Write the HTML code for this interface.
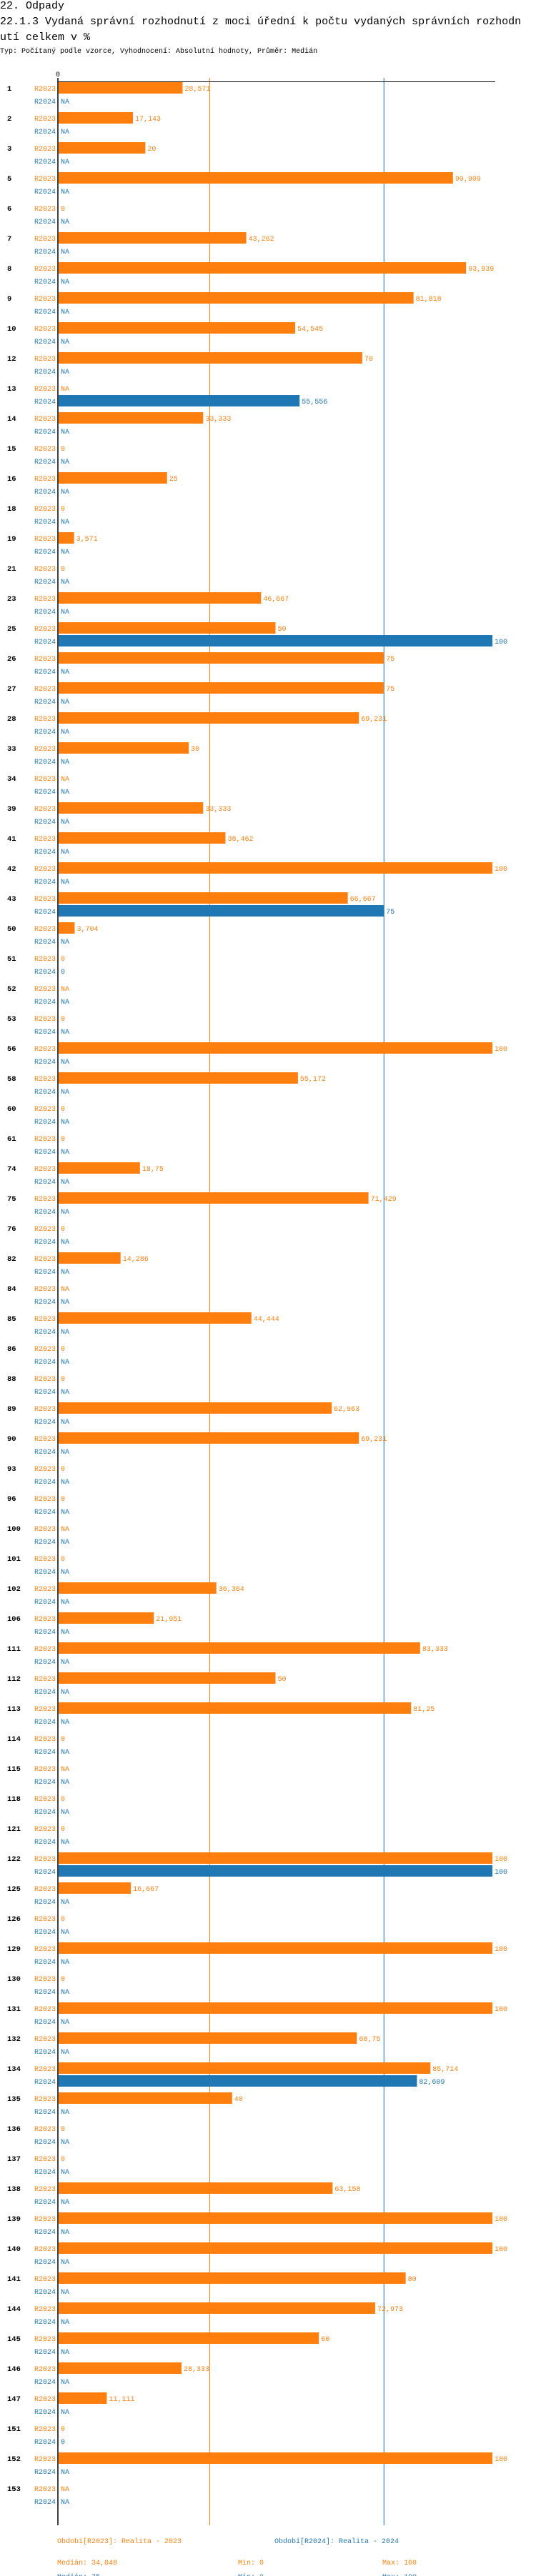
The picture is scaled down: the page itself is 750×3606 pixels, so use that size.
<!DOCTYPE html>
<html><head><meta charset="utf-8">
<style>
html,body{margin:0;padding:0;background:#fff;}
body{width:750px;height:3606px;overflow:hidden;font-family:"Liberation Mono",monospace;}
.h{position:absolute;left:0;white-space:nowrap;color:#000;}
</style></head>
<body>
<div class="h" style="top:0px;font-size:15px;line-height:18px;">22. Odpady</div>
<div class="h" style="top:20px;font-size:15px;line-height:22px;">22.1.3 Vydaná správní rozhodnutí z moci úřední k počtu vydaných správních rozhodn<br>utí celkem v %</div>
<div class="h" style="top:66px;font-size:10px;line-height:14px;">Typ: Počítaný podle vzorce, Vyhodnocení: Absolutní hodnoty, Průměr: Medián</div>
<svg id="chart" width="750" height="3606" style="position:absolute;left:0;top:0;" xmlns="http://www.w3.org/2000/svg"></svg>
<script>
const categories = ["1","2","3","5","6","7","8","9","10","12","13","14","15","16","18","19","21","23","25","26","27","28","33","34","39","41","42","43","50","51","52","53","56","58","60","61","74","75","76","82","84","85","86","88","89","90","93","96","100","101","102","106","111","112","113","114","115","118","121","122","125","126","129","130","131","132","134","135","136","137","138","139","140","141","144","145","146","147","151","152","153"];
const r2023 = [28.571,17.143,20,90.909,0,43.262,93.939,81.818,54.545,70,null,33.333,0,25,0,3.571,0,46.667,50,75,75,69.231,30,null,33.333,38.462,100,66.667,3.704,0,null,0,100,55.172,0,0,18.75,71.429,0,14.286,null,44.444,0,0,62.963,69.231,0,0,null,0,36.364,21.951,83.333,50,81.25,0,null,0,0,100,16.667,0,100,0,100,68.75,85.714,40,0,0,63.158,100,100,80,72.973,60,28.333,11.111,0,100,null];
const r2024 = [null,null,null,null,null,null,null,null,null,null,55.556,null,null,null,null,null,null,null,100,null,null,null,null,null,null,null,null,75,null,0,null,null,null,null,null,null,null,null,null,null,null,null,null,null,null,null,null,null,null,null,null,null,null,null,null,null,null,null,null,100,null,null,null,null,null,null,82.609,null,null,null,null,null,null,null,null,null,null,null,0,null,null];
const medians = [34.848, 75];
const mins = [0, 0];
const maxs = [100, 100];
const seriesNames = ["R2023","R2024"];
const legendLabels = ["Období[R2023]: Realita - 2023","Období[R2024]: Realita - 2024"];

const colors = ["#ff7f0e","#1f77b4"];
const X0 = 82, X1 = 689, Y0 = 123, GROUP = 42, ROW = 18, BAR_H = 16;
const xs = v => X0 + (v/100)*(X1-X0);
const ys = (i,s) => Y0 + i*GROUP + s*ROW;
const NS = "http://www.w3.org/2000/svg";
const svg = document.getElementById("chart");
function mk(tag, attrs, parent){
  const e = document.createElementNS(NS, tag);
  for (const k in attrs) e.setAttribute(k, attrs[k]);
  (parent||svg).appendChild(e);
  return e;
}
function fmt(v){ return v===null ? "NA" : String(v).replace(".", ","); }
const lastY = ys(categories.length-1,1);
const axisBottom = lastY + 34;

medians.forEach((m,s)=>{
  const l = mk("line",{x1:xs(m),x2:xs(m),y1:109,y2:axisBottom,stroke:colors[s],"stroke-width":1});
  
  
});

categories.forEach((c,i)=>{
  const g = mk("g",{});
  
  
  const t = mk("text",{x:10,y:ys(i,0)+4,"font-size":"10.5","font-weight":"bold","font-family":"Liberation Mono, monospace",fill:"#000"},g);
  t.textContent = c;
  
  
  [r2023, r2024].forEach((arr,s)=>{
    const v = arr[i], y = ys(i,s);
    const lab = mk("text",{x:78,y:y+4,"text-anchor":"end","font-size":"10","font-family":"Liberation Mono, monospace",fill:colors[s]},g);
    lab.textContent = seriesNames[s];
    
    
    let endX = X0;
    if (v !== null && v > 0){
      const r = mk("rect",{x:X0,y:y-BAR_H/2,width:xs(v)-X0,height:BAR_H,fill:colors[s]},g);
      
      
      endX = xs(v);
    }
    const vt = mk("text",{x:endX+3,y:y+4,"font-size":"10","font-family":"Liberation Mono, monospace",fill:colors[s]},g);
    vt.textContent = fmt(v);
    
    
  });
});

const ax = mk("line",{x1:81,x2:81,y1:109,y2:axisBottom,stroke:"#000","stroke-width":1.5});


const hx = mk("line",{x1:81,x2:693,y1:114.5,y2:114.5,stroke:"#000","stroke-width":1});


const z = mk("text",{x:81,y:107,"text-anchor":"middle","font-size":"10","font-family":"Liberation Mono, monospace",fill:"#000"});
z.textContent = "0";



const legX = [80, 384];
legendLabels.forEach((s,k)=>{
  const t = mk("text",{x:legX[k],y:axisBottom+25,"font-size":"10","font-family":"Liberation Mono, monospace",fill:colors[k]});
  t.textContent = s;
  
  
  const yy = axisBottom + 55 + k*20;
  const a = mk("text",{x:80,y:yy,"font-size":"10","font-family":"Liberation Mono, monospace",fill:colors[k]});
  a.textContent = "Medián: " + fmt(medians[k]);
  
  
  const b = mk("text",{x:333,y:yy,"font-size":"10","font-family":"Liberation Mono, monospace",fill:colors[k]});
  b.textContent = "Min: " + fmt(mins[k]);
  
  
  const c = mk("text",{x:535,y:yy,"font-size":"10","font-family":"Liberation Mono, monospace",fill:colors[k]});
  c.textContent = "Max: " + fmt(maxs[k]);
  
  
});
</script>
</body></html>
